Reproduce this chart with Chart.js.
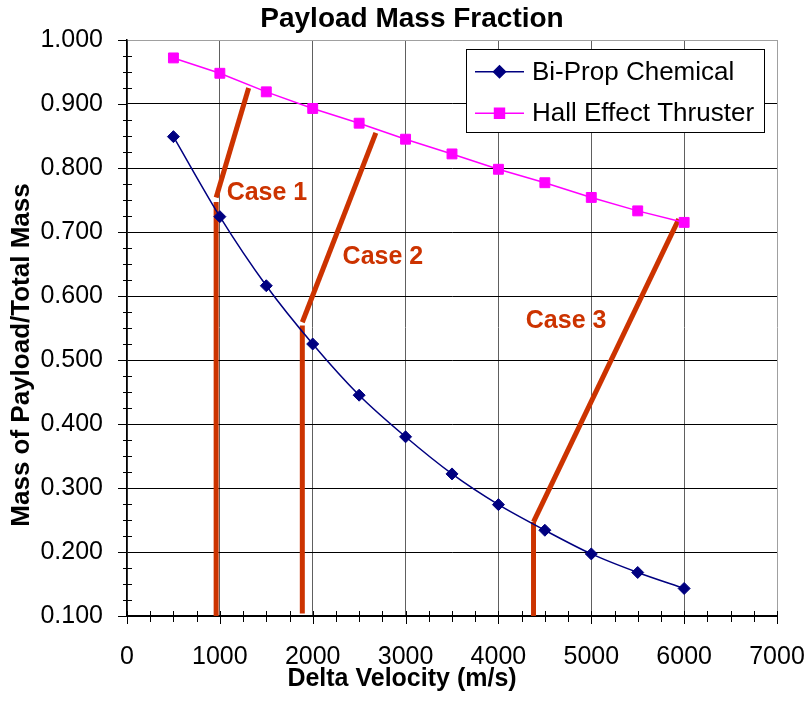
<!DOCTYPE html>
<html>
<head>
<meta charset="utf-8">
<script src="https://cdn.jsdelivr.net/npm/chart.js@4"></script>
<style>
  html, body { margin: 0; padding: 0; background: #fff; }
  #c { display: block; }
</style>
</head>
<body>
<canvas id="c" width="811" height="702"></canvas>
<script>
// ---- Data ----
const deltaV = [500, 1000, 1500, 2000, 2500, 3000, 3500, 4000, 4500, 5000, 5500, 6000];
const biPropValues = [0.849, 0.724, 0.616, 0.525, 0.445, 0.380, 0.322, 0.274, 0.234, 0.197, 0.168, 0.143];
const hallValues   = [0.972, 0.948, 0.919, 0.893, 0.870, 0.845, 0.822, 0.798, 0.777, 0.754, 0.733, 0.715];
const seriesNames = ['Bi-Prop Chemical', 'Hall Effect Thruster'];

// Case annotation lines: vertical segment and slanted segment (x in m/s, y in mass fraction)
const case1VerticalX = [960, 960];   const case1VerticalY = [0.100, 0.747];
const case1SlantX    = [960, 1310];  const case1SlantY    = [0.754, 0.925];
const case2VerticalX = [1888, 1888]; const case2VerticalY = [0.104, 0.554];
const case2SlantX    = [1888, 2680]; const case2SlantY    = [0.559, 0.855];
const case3VerticalX = [4378, 4378]; const case3VerticalY = [0.100, 0.247];
const case3SlantX    = [4378, 5942]; const case3SlantY    = [0.247, 0.720];

const caseLabels = ['Case 1', 'Case 2', 'Case 3'];
const caseLabelX = [1507, 2756, 4729];
const caseLabelY = [0.761, 0.661, 0.560];

const xMin = 0, xMax = 7000, xStep = 1000, xMinorStep = 250;
const yMin = 0.1, yMax = 1.0, yStep = 0.1, yMinorStep = 0.025;

const chartTitle = 'Payload Mass Fraction';
const xTitle = 'Delta Velocity (m/s)';
const yTitle = 'Mass of Payload/Total Mass';

// ---- Helpers ----
const pts = (xs, ys) => xs.map((x, i) => ({ x: x, y: ys[i] }));
const ORANGE = '#CC3300';
const FONT = '"Liberation Sans", Arial, Helvetica, sans-serif';

function caseDataset(xs, ys) {
  return {
    label: '',
    data: pts(xs, ys),
    borderColor: ORANGE,
    backgroundColor: ORANGE,
    borderWidth: 5,
    pointRadius: 0,
    pointHoverRadius: 0,
    tension: 0,
    borderCapStyle: 'butt',
    order: 2,
    isCase: true
  };
}

const decorPlugin = {
  id: 'decor',
  afterDraw(chart) {
    const ctx = chart.ctx;
    const xs = chart.scales.x, ys = chart.scales.y;
    const area = chart.chartArea;
    ctx.save();

    // minor + major ticks
    ctx.strokeStyle = '#000';
    ctx.lineWidth = 1;
    ctx.beginPath();
    for (let v = yMin; v <= yMax + 1e-9; v += yMinorStep) {
      const py = Math.round(ys.getPixelForValue(v)) + 0.5;
      const isMajor = Math.abs((v - yMin) / yStep - Math.round((v - yMin) / yStep)) < 1e-6;
      if (isMajor) { ctx.moveTo(area.left - 9, py); ctx.lineTo(area.left, py); }
      else { ctx.moveTo(area.left - 4, py); ctx.lineTo(area.left + 5, py); }
    }
    for (let v = xMin; v <= xMax + 1e-9; v += xMinorStep) {
      const px = Math.round(xs.getPixelForValue(v)) + 0.5;
      const isMajor = (v % xStep) === 0;
      if (isMajor) { ctx.moveTo(px, area.bottom - 5); ctx.lineTo(px, area.bottom + 8); }
      else { ctx.moveTo(px, area.bottom - 5); ctx.lineTo(px, area.bottom + 6); }
    }
    ctx.stroke();

    // Case labels
    ctx.fillStyle = ORANGE;
    ctx.font = 'bold 25px ' + FONT;
    ctx.textAlign = 'center';
    ctx.textBaseline = 'middle';
    caseLabels.forEach((t, i) => {
      ctx.fillText(t, xs.getPixelForValue(caseLabelX[i]), ys.getPixelForValue(caseLabelY[i]));
    });

    // Title
    ctx.fillStyle = '#000';
    ctx.font = 'bold 28px ' + FONT;
    ctx.fillText(chartTitle, 412, 19);

    // X title
    ctx.font = 'bold 25px ' + FONT;
    ctx.fillText(xTitle, 402, 679);

    // Y title
    ctx.save();
    ctx.translate(22, 355);
    ctx.rotate(-Math.PI / 2);
    ctx.font = 'bold 26px ' + FONT;
    ctx.fillText(yTitle, 0, 0);
    ctx.restore();

    // Legend
    const lx = 466.5, ly = 49.5, lw = 298, lh = 83;
    ctx.fillStyle = '#fff';
    ctx.fillRect(lx, ly, lw, lh);
    ctx.strokeStyle = '#000';
    ctx.lineWidth = 1;
    ctx.strokeRect(lx, ly, lw, lh);
    const rows = [71.7, 113.3];
    const series = chart.data.datasets.filter(d => !d.isCase);
    series.forEach((ds, i) => {
      const y = rows[i];
      ctx.strokeStyle = ds.borderColor;
      ctx.lineWidth = ds.borderWidth;
      ctx.beginPath();
      ctx.moveTo(475, y);
      ctx.lineTo(524, y);
      ctx.stroke();
      Chart.helpers.drawPoint(ctx, {
        pointStyle: ds.pointStyle, radius: ds.pointRadius, borderWidth: 1, rotation: 0
      }, 499.5, y);
      ctx.fillStyle = ds.pointBackgroundColor;
      ctx.fill();
      ctx.fillStyle = '#000';
      ctx.font = '26px ' + FONT;
      ctx.textAlign = 'left';
      ctx.textBaseline = 'middle';
      ctx.fillText(ds.label, 532, y + 1);
    });

    ctx.restore();
  }
};

new Chart(document.getElementById('c'), {
  type: 'line',
  data: {
    datasets: [
      {
        label: seriesNames[0],
        data: pts(deltaV, biPropValues),
        borderColor: '#000080',
        backgroundColor: '#000080',
        pointBackgroundColor: '#000080',
        pointBorderColor: '#000080',
        borderWidth: 1.5,
        pointStyle: 'rectRot',
        pointRadius: 6,
        pointBorderWidth: 1,
        tension: 0.3,
        order: 0
      },
      {
        label: seriesNames[1],
        data: pts(deltaV, hallValues),
        borderColor: '#FF00FF',
        backgroundColor: '#FF00FF',
        pointBackgroundColor: '#FF00FF',
        pointBorderColor: '#FF00FF',
        borderWidth: 1.5,
        pointStyle: 'rect',
        pointRadius: 7,
        pointBorderWidth: 1,
        tension: 0,
        order: 1
      },
      caseDataset(case1VerticalX, case1VerticalY),
      caseDataset(case1SlantX, case1SlantY),
      caseDataset(case2VerticalX, case2VerticalY),
      caseDataset(case2SlantX, case2SlantY),
      caseDataset(case3VerticalX, case3VerticalY),
      caseDataset(case3SlantX, case3SlantY)
    ]
  },
  options: {
    responsive: false,
    animation: false,
    devicePixelRatio: 1,
    layout: { padding: { top: 40, right: 34, bottom: 0, left: 0 }, autoPadding: false },
    plugins: {
      legend: { display: false },
      title: { display: false },
      tooltip: { enabled: false }
    },
    scales: {
      x: {
        type: 'linear',
        min: xMin, max: xMax,
        afterFit(scale) { scale.height = 86; scale.paddingLeft = 0; scale.paddingRight = 0; },
        ticks: {
          stepSize: xStep,
          color: '#000',
          font: { family: FONT, size: 25 },
          padding: 26,
          maxRotation: 0,
          callback: v => String(v)
        },
        grid: {
          drawTicks: false,
          lineWidth: 1,
          color: c => (c.tick && c.tick.value === xMax) ? '#a0a0a0' : '#606060'
        },
        border: { color: '#000', width: 1.5 }
      },
      y: {
        type: 'linear',
        min: yMin, max: yMax,
        afterFit(scale) { scale.width = 127; scale.paddingTop = 0; scale.paddingBottom = 0; },
        ticks: {
          stepSize: yStep,
          color: '#000',
          font: { family: FONT, size: 25 },
          padding: 24,
          callback: v => Number(v).toFixed(3)
        },
        grid: {
          drawTicks: false,
          lineWidth: 1,
          color: c => (c.tick && Math.abs(c.tick.value - yMax) < 1e-9) ? '#a0a0a0' : '#000'
        },
        border: { color: '#000', width: 1.5 }
      }
    }
  },
  plugins: [decorPlugin]
});
</script>
</body>
</html>
